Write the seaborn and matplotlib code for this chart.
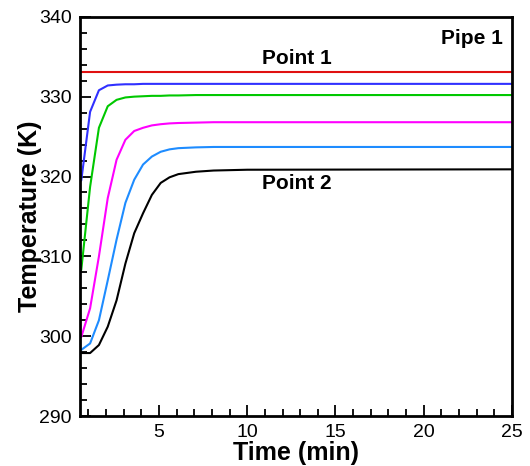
import numpy as np
import pandas as pd
import matplotlib
matplotlib.use("Agg")
import matplotlib.pyplot as plt
import seaborn as sns
from matplotlib.ticker import MultipleLocator

# time samples (min)
time = [0.6, 1.1, 1.6, 2.1, 2.6, 3.1, 3.6, 4.1, 4.6, 5.1, 5.6, 6.1, 7.1, 8.1, 10.0, 25.0]

# temperatures (K) for each monitoring point along pipe 1
point_1 = [333.1] * 16
curve_b = [319.5, 328.1, 330.8, 331.4, 331.5, 331.55, 331.55, 331.6, 331.6, 331.6,
           331.6, 331.6, 331.6, 331.6, 331.6, 331.6]
curve_c = [308.3, 318.7, 326.1, 328.8, 329.6, 329.9, 330.0, 330.05, 330.1, 330.1,
           330.15, 330.15, 330.2, 330.2, 330.2, 330.2]
curve_d = [299.9, 303.5, 310.0, 317.3, 322.1, 324.6, 325.7, 326.1, 326.4, 326.55,
           326.65, 326.7, 326.75, 326.8, 326.8, 326.8]
curve_e = [298.3, 299.1, 302.0, 307.0, 312.1, 316.7, 319.6, 321.5, 322.5, 323.1,
           323.4, 323.55, 323.65, 323.7, 323.7, 323.7]
point_2 = [297.9, 297.9, 298.9, 301.2, 304.5, 309.1, 312.9, 315.4, 317.7, 319.2,
           319.9, 320.3, 320.6, 320.75, 320.85, 320.9]

series_names = ["Point 1", "b", "c", "d", "e", "Point 2"]
series_vals = [point_1, curve_b, curve_c, curve_d, curve_e, point_2]
colors = ["#e01010", "#3030ff", "#00c800", "#ff00ff", "#1e8cff", "#000000"]

df = pd.concat([pd.DataFrame({"time": time, "temp": v, "series": n})
                for n, v in zip(series_names, series_vals)], ignore_index=True)

sns.set_style("ticks", {"axes.edgecolor": "black", "text.color": "black",
                        "axes.labelcolor": "black", "xtick.color": "black",
                        "ytick.color": "black"})
plt.rcParams["font.family"] = ["Liberation Sans", "DejaVu Sans"]

fig = plt.figure(figsize=(5.3, 4.66), dpi=100)
ax = fig.add_axes([0.151, 0.107, 0.815, 0.857])

sns.lineplot(data=df, x="time", y="temp", hue="series", hue_order=series_names,
             palette=colors, linewidth=1.5, legend=False, ax=ax, sort=False)

ax.set_xlim(0.53, 25)
ax.set_ylim(290, 340)
ax.xaxis.set_major_locator(MultipleLocator(5))
ax.xaxis.set_minor_locator(MultipleLocator(1))
ax.yaxis.set_major_locator(MultipleLocator(10))
ax.yaxis.set_minor_locator(MultipleLocator(2))
ax.tick_params(which="both", direction="in", labelsize=14, width=1.3, pad=6,
               colors="black")
ax.tick_params(which="major", length=8)
ax.tick_params(which="minor", length=5)

for s in ax.spines.values():
    s.set_linewidth(2)
    s.set_visible(True)
    s.set_color("black")

ax.set_xlabel("Time (min)", fontsize=18, fontweight="bold", labelpad=0)
ax.set_ylabel("Temperature (K)", fontsize=18, fontweight="bold", labelpad=-2)

ax.text(0.978, 0.97, "Pipe 1", transform=ax.transAxes, ha="right", va="top",
        fontsize=15, fontweight="bold")
ax.text(12.8, 333.6, "Point 1", ha="center", va="bottom", fontsize=15, fontweight="bold")
ax.text(12.8, 320.3, "Point 2", ha="center", va="top", fontsize=15, fontweight="bold")

fig.savefig("out.png", dpi=100)
